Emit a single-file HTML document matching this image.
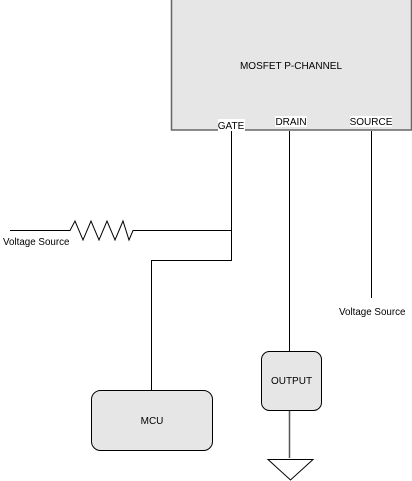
<!DOCTYPE html>
<html><head><style>
body{margin:0;background:#fff;}
svg{display:block;font-family:"Liberation Sans",Arial,sans-serif;}
</style></head><body>
<svg width="412" height="481" viewBox="0 0 412 481">
<rect x="171.5" y="-1" width="240" height="131" fill="#e6e6e6" stroke="#666" stroke-width="1.5"/>
<text x="291" y="69" font-size="10" text-anchor="middle" fill="#000">MOSFET P-CHANNEL</text>
<rect x="218" y="119" width="27" height="12" fill="#fff"/>
<text x="231" y="129" font-size="10" text-anchor="middle">GATE</text>
<rect x="275" y="116" width="32" height="11" fill="#fff"/>
<text x="291" y="125" font-size="10" text-anchor="middle">DRAIN</text>
<rect x="350" y="116" width="42" height="11" fill="#fff"/>
<text x="371" y="125" font-size="10" text-anchor="middle">SOURCE</text>
<g stroke="#000" stroke-width="1" fill="none">
<path d="M231.5 131V260.5H151.5V390"/>
<path d="M10 230.5H70L75 221L83 240L91 221L99 240L107 221L115 240L123 221L129 240L133 230.5H231.5"/>
<path d="M289.5 131V351"/>
<path d="M371.5 131V298"/>
</g>
<path d="M289.5 410V458" stroke="#555" stroke-width="1.5"/>
<path d="M268 459.5H313L290.5 480Z" fill="#fff" stroke="#000"/>
<text x="3" y="245" font-size="9.8">Voltage Source</text>
<text x="339" y="315" font-size="9.8">Voltage Source</text>
<rect x="261.5" y="351.5" width="60" height="59" rx="8" fill="#e6e6e6" stroke="#000"/>
<text x="291.5" y="384" font-size="10" text-anchor="middle">OUTPUT</text>
<rect x="91.5" y="390.5" width="121" height="60" rx="9" fill="#e6e6e6" stroke="#000"/>
<text x="152" y="424" font-size="10" text-anchor="middle">MCU</text>
</svg>
</body></html>
